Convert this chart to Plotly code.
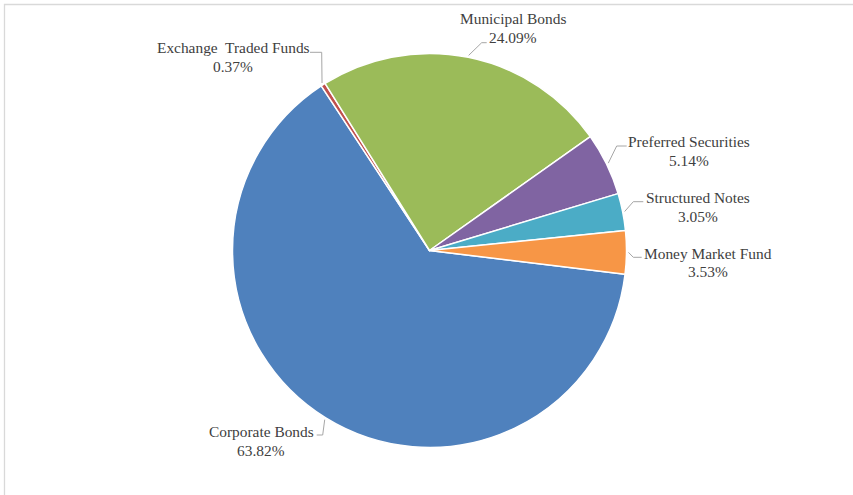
import math
import plotly.graph_objects as go

# ---- data ----
categories = ["Corporate Bonds", "Exchange  Traded Funds", "Municipal Bonds",
              "Preferred Securities", "Structured Notes", "Money Market Fund"]
values = [63.82, 0.37, 24.09, 5.14, 3.05, 3.53]
colors = ["#4F81BD", "#C0504D", "#9BBB59", "#8064A2", "#4BACC6", "#F79646"]

# ---- layout constants (pixels) ----
W, H = 853, 495
CX, CY, R = 429.5, 250.5, 197
ROTATION = 96.9
LINE_GAP = 18.8

# label block centre, elbow and attach point of the leader line (pixels)
label_layout = [
    dict(text=(261.2, 441.2), elbow=(322.7, 435.0), attach=(316.7, 435.0)),
    dict(text=(233.3, 57.2), elbow=(321.7, 52.3), attach=(310.0, 52.3)),
    dict(text=(513.3, 28.3), elbow=(481.7, 42.7), attach=(486.7, 42.7)),
    dict(text=(689.2, 151.3), elbow=(616.7, 146.0), attach=(626.7, 146.0)),
    dict(text=(697.7, 207.0), elbow=(633.3, 201.7), attach=(643.3, 201.7)),
    dict(text=(707.6, 262.5), elbow=(633.3, 257.3), attach=(641.7, 257.3)),
]


def px(x):
    return x / W


def py(y):
    return 1 - y / H


fig = go.Figure(go.Pie(
    labels=categories,
    values=values,
    sort=False,
    direction="clockwise",
    rotation=ROTATION,
    marker=dict(colors=colors, line=dict(color="white", width=1.5)),
    textinfo="none",
    hoverinfo="label+percent",
    showlegend=False,
    domain=dict(x=[px(CX - R), px(CX + R)], y=[py(CY + R), py(CY - R)]),
))

total = sum(values)
start = ROTATION
annotations = []
shapes = []
font = dict(family="Liberation Serif", size=15.4, color="#404040")
for cat, v, lay in zip(categories, values, label_layout):
    span = 360.0 * v / total
    mid = math.radians(start + span / 2)
    start += span
    ex = CX + (R + 2) * math.sin(mid)
    ey = CY - (R + 2) * math.cos(mid)
    (bx, by), (ax, ay) = lay["elbow"], lay["attach"]
    shapes.append(dict(
        type="path", xref="paper", yref="paper",
        path=f"M {px(ex)},{py(ey)} L {px(bx)},{py(by)} L {px(ax)},{py(ay)}",
        line=dict(color="#A6A6A6", width=1),
    ))
    tx, ty = lay["text"]
    for txt, dy in ((cat, -LINE_GAP / 2), (f"{v:.2f}%", LINE_GAP / 2)):
        annotations.append(dict(
            x=px(tx), y=py(ty + dy), xref="paper", yref="paper",
            xanchor="center", yanchor="middle", align="center",
            text=txt, showarrow=False, font=font,
        ))

# chart frame (light grey border at top and left)
shapes.append(dict(
    type="rect", xref="paper", yref="paper",
    x0=px(4.5), x1=px(W + 10), y0=py(H + 10), y1=py(4.5),
    line=dict(color="#D9D9D9", width=1.3),
))

fig.update_layout(
    width=W, height=H,
    margin=dict(l=0, r=0, t=0, b=0),
    paper_bgcolor="white",
    plot_bgcolor="white",
    shapes=shapes,
    annotations=annotations,
)

fig.write_html("out.html")
